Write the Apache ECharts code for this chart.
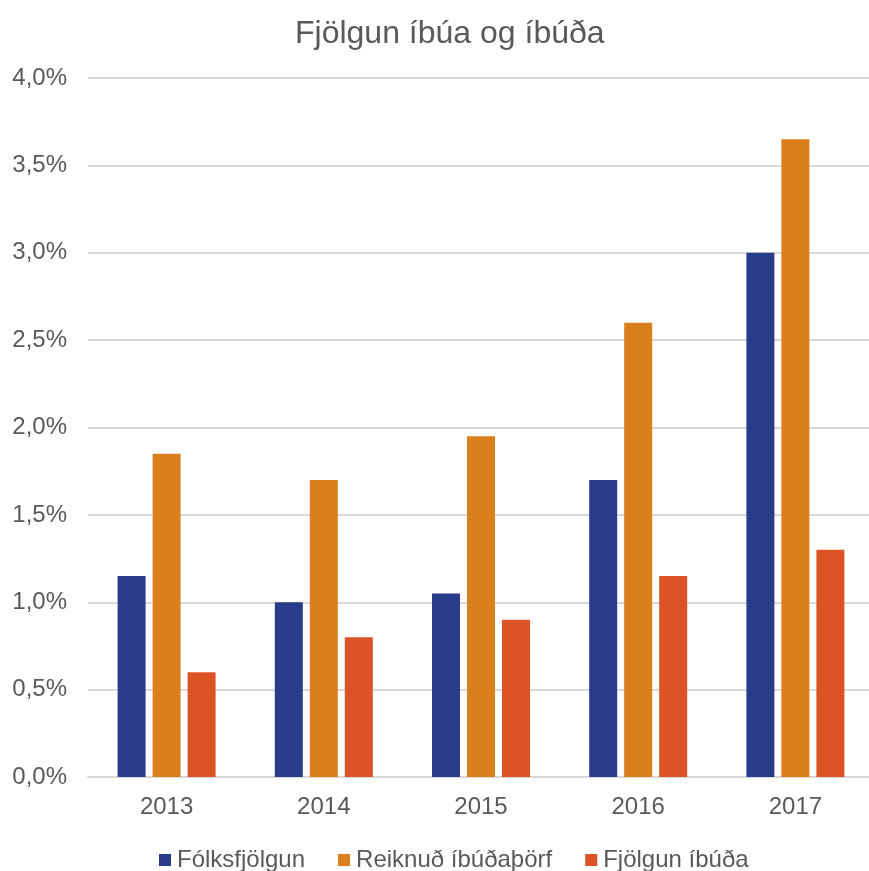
<!DOCTYPE html>
<html>
<head>
<meta charset="utf-8">
<script src="https://cdn.jsdelivr.net/npm/echarts@6/dist/echarts.min.js"></script>
<style>html,body{margin:0;padding:0;background:#fff}#c{width:869px;height:871px}</style>
</head>
<body>
<div id="c"></div>
<script>
const categories = ['2013', '2014', '2015', '2016', '2017'];
const folksfjolgun = [1.15, 1.0, 1.05, 1.7, 3.0];
const reiknudIbudathorf = [1.85, 1.7, 1.95, 2.6, 3.65];
const fjolgunIbuda = [0.6, 0.8, 0.9, 1.15, 1.3];
const seriesNames = ['Fólksfjölgun', 'Reiknuð íbúðaþörf', 'Fjölgun íbúða'];
const colors = ['#283C89', '#D9801D', '#DC5426'];

const font = '"Liberation Sans", Arial, sans-serif';
const txt = '#595959';
const chart = echarts.init(document.getElementById('c'));
chart.setOption({
  animation: false,
  color: colors,
  title: {
    text: 'Fjölgun íbúa og íbúða',
    left: 290,
    top: 13,
    textStyle: { fontFamily: font, fontSize: 32, fontWeight: 'normal', color: txt }
  },
  legend: {
    top: 843,
    left: 154,
    itemWidth: 12,
    itemHeight: 12,
    itemGap: 33,
    icon: 'rect',
    textStyle: { fontFamily: font, fontSize: 24, color: txt, padding: [0, 0, 0, 1] },
    data: seriesNames
  },
  grid: { left: 88, width: 786, top: 78, height: 699, containLabel: false, outerBoundsMode: 'none' },
  xAxis: {
    type: 'category',
    data: categories,
    axisLine: { lineStyle: { color: '#D9D9D9', width: 2 } },
    axisTick: { show: false },
    axisLabel: { fontFamily: font, fontSize: 24, color: txt, margin: 18 }
  },
  yAxis: {
    type: 'value',
    min: 0,
    max: 4,
    interval: 0.5,
    axisLine: { show: false },
    axisTick: { show: false },
    splitLine: { lineStyle: { color: '#D9D9D9', width: 2 } },
    axisLabel: {
      fontFamily: font, fontSize: 24, color: txt, margin: 21,
      formatter: v => v.toFixed(1).replace('.', ',') + '%'
    }
  },
  series: [
    { name: seriesNames[0], type: 'bar', data: folksfjolgun, barWidth: 28, barGap: '25%' },
    { name: seriesNames[1], type: 'bar', data: reiknudIbudathorf, barWidth: 28, barGap: '25%' },
    { name: seriesNames[2], type: 'bar', data: fjolgunIbuda, barWidth: 28, barGap: '25%' }
  ]
});
</script>
</body>
</html>
